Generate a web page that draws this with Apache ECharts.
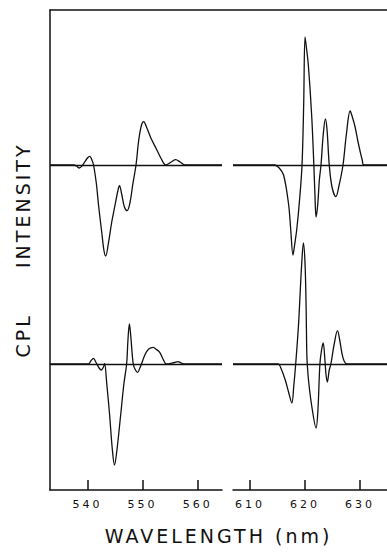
<!DOCTYPE html>
<html><head><meta charset="utf-8">
<script src="https://cdn.jsdelivr.net/npm/echarts@6/dist/echarts.min.js"></script>
<style>
html,body{margin:0;padding:0;background:#fff;}
#c{width:387px;height:559px;letter-spacing:3px;}
#c text{white-space:pre;}
</style></head><body><div id="c"></div>
<script>
// Wavelength (nm) and CPL intensity (arbitrary units)
const topLeftWl  = [533.2, 537.5, 538.0, 538.5, 539.0, 539.5, 540.0, 540.4, 540.8, 541.1, 541.6, 542.0, 542.6, 543.0, 543.3, 543.8, 544.4, 545.0, 545.5, 545.8, 546.2, 546.7, 547.2, 547.7, 548.2, 548.8, 549.3, 549.8, 550.2, 550.7, 551.5, 552.5, 553.4, 554.2, 555.2, 556.0, 556.8, 557.7, 564.4];
const topLeftVal = [0, 0, -0.1, -0.3, -0.1, 0.3, 0.7, 0.86, 0.5, 0, -1.8, -4.0, -6.8, -8.6, -9.1, -7.8, -5.7, -4.0, -2.6, -2.07, -2.9, -4.2, -4.57, -3.8, -2.0, 0, 2.5, 4.0, 4.33, 3.8, 2.7, 1.6, 0.6, 0, 0.3, 0.53, 0.3, 0, 0];

const topRightWl  = [606.9, 614.5, 615.3, 616.1, 617.0, 617.4, 617.8, 618.1, 618.5, 619.0, 619.45, 619.75, 620.0, 620.3, 620.6, 621.2, 621.6, 621.8, 622.0, 622.3, 622.6, 622.9, 623.3, 623.7, 624.0, 624.4, 624.9, 625.6, 626.2, 626.9, 627.5, 628.2, 628.6, 629.1, 629.6, 630.0, 630.4, 630.7, 634.9];
const topRightVal = [0, 0, -0.3, -1.0, -3.9, -6.5, -9.0, -8.0, -6.4, -3.5, 0, 6.0, 12.8, 11.5, 10.0, 5.0, 0, -3.0, -5.2, -4.0, -1.5, 0, 3.0, 4.6, 3.5, 0, -2.2, -3.17, -2.0, 0, 3.0, 5.4, 4.8, 3.8, 2.4, 1.4, 0.5, 0, 0];

const bottomLeftWl  = [533.2, 540.2, 540.6, 541.1, 541.5, 541.7, 542.1, 542.5, 542.9, 543.1, 543.5, 544.0, 544.5, 544.9, 545.3, 546.0, 546.6, 547.1, 547.35, 547.6, 547.85, 548.3, 548.7, 549.1, 549.5, 549.8, 550.4, 551.1, 551.9, 552.5, 553.1, 553.7, 554.3, 555.8, 556.4, 557.0, 557.6, 564.4];
const bottomLeftVal = [0, 0, 0.3, 0.57, 0.2, 0, -0.4, -0.6, -0.3, 0.05, -2.0, -5.0, -8.5, -10.1, -8.8, -5.2, -2.0, 0, 2.5, 4.0, 2.8, 0, -0.6, -0.83, -0.4, 0, 0.9, 1.5, 1.67, 1.45, 1.17, 0.5, 0, 0.15, 0.23, 0.1, 0, 0];

const bottomRightWl  = [606.9, 615.1, 615.6, 616.4, 617.0, 617.6, 617.95, 618.3, 618.8, 619.1, 619.4, 619.7, 620.0, 620.2, 620.3, 620.4, 620.7, 621.3, 622.0, 622.35, 622.7, 623.0, 623.3, 623.6, 623.8, 624.05, 624.4, 624.7, 625.3, 625.9, 626.3, 626.7, 627.1, 627.6, 634.9];
const bottomRightVal = [0, 0, -0.4, -1.6, -2.8, -3.9, -2.2, 0, 3.8, 7.0, 10.1, 12.1, 10.0, 5.5, 1.5, 0, -2.0, -4.5, -6.4, -4.5, 0, 1.4, 2.1, 0.5, -1.0, -1.8, -0.6, 0, 2.0, 3.33, 2.4, 1.1, 0.3, 0, 0];

const leftTicks  = [540, 550, 560];
const rightTicks = [610, 620, 630];

// vertical offsets of the two traces within the shared intensity scale
const TOP_BASE = 32.5;
const BOTTOM_BASE = 12.6;

const INK = '#111';
const FONT = 'DejaVu Sans';

function pairs(wl, val, base) { return wl.map((w, i) => [w, base + val[i]]); }

function curve(name, wl, val, base, g) {
  return {
    name, type: 'line', xAxisIndex: g, yAxisIndex: g,
    data: pairs(wl, val, base),
    smooth: 0.35, symbol: 'none', showSymbol: false,
    lineStyle: { color: INK, width: 1.3 },
    animation: false, silent: true,
    markLine: {
      silent: true, symbol: 'none', animation: false,
      label: { show: false },
      lineStyle: { color: INK, width: 1.4, type: 'solid' },
      data: [{ yAxis: base }]
    }
  };
}

function bottomAxis(g, min, max, ticks) {
  return {
    gridIndex: g, type: 'value', min, max, position: 'bottom',
    axisLine: { show: true, onZero: false, lineStyle: { color: INK, width: 1.5 } },
    axisTick: { show: true, inside: true, length: 10, customValues: ticks, lineStyle: { color: INK, width: 1.5 } },
    axisLabel: { show: true, customValues: ticks, margin: 9, fontSize: 11, color: INK, fontFamily: FONT },
    splitLine: { show: false }
  };
}

const chart = echarts.init(document.getElementById('c'), null, { renderer: 'svg' });
chart.setOption({
  backgroundColor: '#fff',
  animation: false,
  grid: [
    { left: 50, top: 10, width: 172, height: 480 },
    { left: 233, top: 10, width: 154, height: 480 },
    { left: 50, top: 10, width: 337, height: 480 }
  ],
  xAxis: [
    bottomAxis(0, 533.2, 564.4, leftTicks),
    bottomAxis(1, 606.9, 634.9, rightTicks),
    { gridIndex: 2, type: 'value', min: 0, max: 1, position: 'top',
      axisLine: { show: true, onZero: false, lineStyle: { color: INK, width: 1.5 } },
      axisTick: { show: false }, axisLabel: { show: false }, splitLine: { show: false } },
    { gridIndex: 2, type: 'value', min: 0, max: 1, position: 'bottom',
      axisLine: { show: false }, axisTick: { show: false }, axisLabel: { show: false }, splitLine: { show: false },
      name: 'WAVELENGTH (nm)', nameLocation: 'middle', nameGap: 36,
      nameTextStyle: { fontSize: 19, color: INK, fontFamily: FONT } }
  ],
  yAxis: [
    { gridIndex: 0, type: 'value', min: 0, max: 48,
      axisLine: { show: true, onZero: false, lineStyle: { color: INK, width: 1.5 } },
      axisTick: { show: false }, axisLabel: { show: false }, splitLine: { show: false },
      name: 'CPL     INTENSITY', nameLocation: 'middle', nameRotate: 90, nameGap: 18,
      nameTextStyle: { fontSize: 19, color: INK, fontFamily: FONT } },
    { gridIndex: 1, type: 'value', min: 0, max: 48, show: false },
    { gridIndex: 2, type: 'value', min: 0, max: 1, show: false }
  ],
  series: [
    curve('top-left', topLeftWl, topLeftVal, TOP_BASE, 0),
    curve('bottom-left', bottomLeftWl, bottomLeftVal, BOTTOM_BASE, 0),
    curve('top-right', topRightWl, topRightVal, TOP_BASE, 1),
    curve('bottom-right', bottomRightWl, bottomRightVal, BOTTOM_BASE, 1)
  ]
});
</script>
</body></html>
